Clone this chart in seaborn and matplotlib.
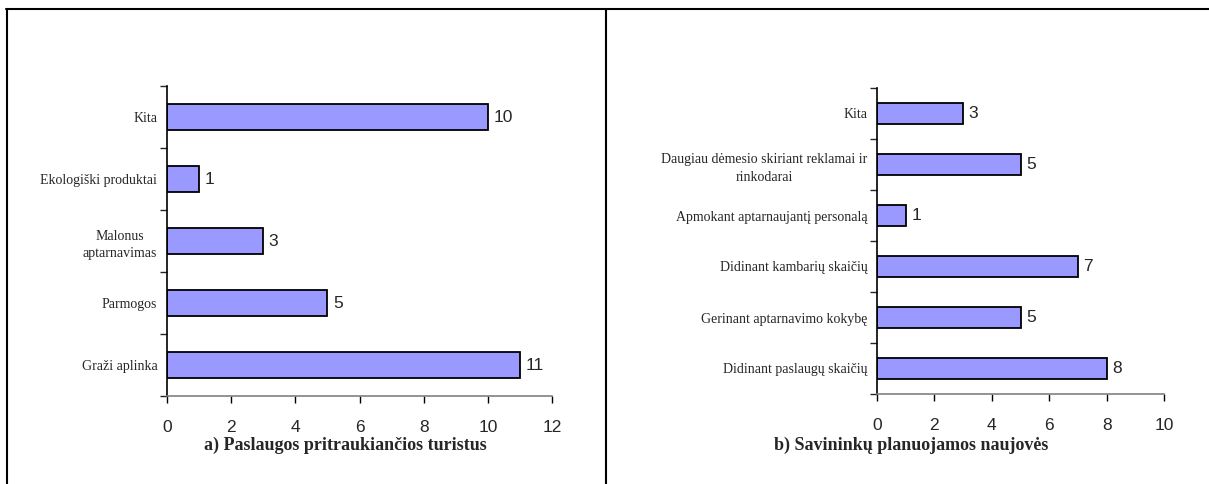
import matplotlib
matplotlib.use("Agg")
import matplotlib.pyplot as plt
import seaborn as sns
import pandas as pd
import numpy as np
from matplotlib.lines import Line2D

# data, top-to-bottom as in the picture
left_cats = ["Kita", "Ekologiški produktai", "Malonus\naptarnavimas", "Parmogos", "Graži aplinka"]
left_vals = [10, 1, 3, 5, 11]
right_cats = ["Kita", "Daugiau dėmesio skiriant reklamai ir\nrinkodarai",
              "Apmokant aptarnaujantį personalą", "Didinant kambarių skaičių",
              "Gerinant aptarnavimo kokybę", "Didinant paslaugų skaičių"]
right_vals = [3, 5, 1, 7, 5, 8]
left_title = "a) Paslaugos pritraukiančios turistus"
right_title = "b) Savininkų planuojamos naujovės"

sns.set_style("white")
plt.rcParams['font.family'] = ['Liberation Sans', 'DejaVu Sans']

fig = plt.figure(figsize=(12.09, 4.84), dpi=100)
W, H = 1209, 484

def px_axes(x0, x1, y0, y1):
    return fig.add_axes([x0 / W, 1 - y1 / H, (x1 - x0) / W, (y1 - y0) / H])

def draw(ax, cats, vals, xmax):
    df = pd.DataFrame({"cat": cats, "val": vals})
    sns.barplot(data=df, x="val", y="cat", orient="h", color="#9999FF",
                saturation=1, edgecolor="black", linewidth=1.3, width=0.42, ax=ax)
    for c in ax.containers:
        ax.bar_label(c, padding=4, fontsize=12.5, family="Liberation Sans")
    n = len(cats)
    ax.set_xlim(0, xmax)
    ax.set_ylim(n - 0.5, -0.5)
    ax.set_xticks(np.arange(0, xmax + 1, 2))
    ax.tick_params(axis="x", labelsize=12.5, length=5, width=1, pad=12,
                   direction="out", bottom=True, color="black")
    ax.set_yticks(np.arange(-0.5, n, 1), minor=True)
    ax.tick_params(axis="y", which="minor", length=5, width=1, left=True, direction="out")
    ax.tick_params(axis="y", which="major", length=0, pad=7)
    for lab in ax.get_yticklabels():
        lab.set_family("Liberation Serif")
        lab.set_fontsize(10)
        lab.set_horizontalalignment("right")
        lab.set_multialignment("center")
        lab.set_linespacing(1.5)
    ax.set_xlabel("")
    ax.set_ylabel("")
    for s in ["top", "right"]:
        ax.spines[s].set_visible(False)
    ax.spines["left"].set_color("black")
    ax.spines["left"].set_linewidth(1.2)
    ax.spines["bottom"].set_color("#808080")
    ax.spines["bottom"].set_linewidth(1.2)

axL = px_axes(167, 552, 86, 396)
draw(axL, left_cats, left_vals, 12)
axR = px_axes(877, 1164, 88, 394)
draw(axR, right_cats, right_vals, 10)

fig.text(345 / W, 1 - 445 / H, left_title, ha="center", va="center",
         family="Liberation Serif", fontweight="bold", fontsize=13)
fig.text(911 / W, 1 - 445 / H, right_title, ha="center", va="center",
         family="Liberation Serif", fontweight="bold", fontsize=13)

# frame lines around the two panels
for xs, ys in [([6 / W, 1], [1 - 9 / H, 1 - 9 / H]),
               ([7 / W, 7 / W], [1 - 9 / H, 0]),
               ([606 / W, 606 / W], [1 - 9 / H, 0])]:
    fig.add_artist(Line2D(xs, ys, color="black", linewidth=1.5, transform=fig.transFigure))

fig.savefig("out.png", dpi=100)
